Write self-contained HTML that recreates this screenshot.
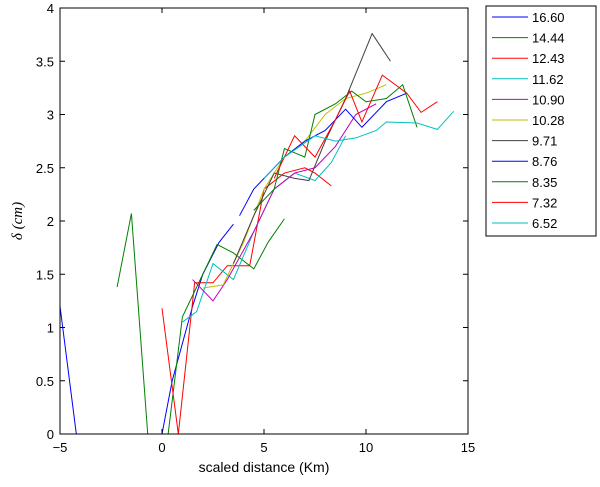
<!DOCTYPE html>
<html><head><meta charset="utf-8"><style>
body{margin:0;background:#fff;width:600px;height:482px;overflow:hidden;font-family:"Liberation Sans",sans-serif}
</style></head><body>
<svg id="chart" width="600" height="482" xmlns="http://www.w3.org/2000/svg" font-family="Liberation Sans, sans-serif"></svg>
<script>
const xTicks=[-5,0,5,10,15];
const yTicks=[0,0.5,1,1.5,2,2.5,3,3.5,4];
const seriesNames=["16.60","14.44","12.43","11.62","10.90","10.28","9.71","8.76","8.35","7.32","6.52"];
const seriesColors=["#0000ff","#008000","#ff0000","#00bfbf","#bf00bf","#bfbf00","#404040","#0000ff","#008000","#ff0000","#00bfbf"];
const s1660x=[-5,-4.2,0,0.5,1.5,2,2.8,3.5];
const s1660y=[1.2,0,0,0.5,1.2,1.5,1.8,1.97];
const s1444x=[-2.2,-1.5,-0.7,0.3,1,2,2.7,3.5,4.5,5.2,6];
const s1444y=[1.38,2.07,0,0,1.1,1.5,1.78,1.7,1.55,1.8,2.02];
const s1243x=[0,0.8,1.6,2.5,3.2,4.3,5,6,7,7.5,8.3];
const s1243y=[1.18,0,1.42,1.42,1.58,1.58,2.3,2.45,2.5,2.45,2.33];
const s1162x=[1,1.7,2.5,3.5,4.5,5.5,6.5,7.5,8.3,9];
const s1162y=[1.05,1.15,1.6,1.45,1.9,2.3,2.45,2.38,2.55,2.8];
const s1090x=[1.5,2.5,3.2,4.5,5.5,6.5,7.5,8.5,9.5,10.5];
const s1090y=[1.45,1.25,1.45,1.9,2.3,2.45,2.5,2.7,3.0,3.1];
const s1028x=[2,3,4,5,6,7,8,9,10,11];
const s1028y=[1.37,1.4,1.8,2.3,2.6,2.75,3.0,3.15,3.2,3.28];
const s971x=[3.5,4.5,5.5,6.5,7.2,8,9,10.3,11.2];
const s971y=[1.6,2.05,2.45,2.4,2.38,2.75,3.15,3.76,3.5];
const s876x=[3.8,4.5,5.5,6,7,8,9,9.8,11,12];
const s876y=[2.05,2.3,2.5,2.6,2.75,2.85,3.05,2.88,3.12,3.2];
const s835x=[4.5,5.5,6,7,7.5,8.5,9.3,10,11,11.8,12.5];
const s835y=[2.1,2.3,2.68,2.6,3.0,3.1,3.22,3.12,3.15,3.28,2.88];
const s732x=[5.5,6.5,7.5,8.5,9.2,9.8,10.8,12,12.7,13.5];
const s732y=[2.4,2.8,2.6,2.95,3.22,2.93,3.37,3.2,3.02,3.12];
const s652x=[5,6,7.5,8.5,9.5,10.5,11,12.5,13.5,14.3];
const s652y=[2.4,2.6,2.8,2.75,2.78,2.85,2.93,2.92,2.86,3.03];
const allX=[s1660x,s1444x,s1243x,s1162x,s1090x,s1028x,s971x,s876x,s835x,s732x,s652x];
const allY=[s1660y,s1444y,s1243y,s1162y,s1090y,s1028y,s971y,s876y,s835y,s732y,s652y];

const L=60,R=468,T=8,B=434;
const xs=v=>L+(v+5)/20*(R-L);
const ys=v=>B-v/4*(B-T);
const svg=document.getElementById('chart');
const NS="http://www.w3.org/2000/svg";
function mk(tag,attrs,parent){const e=document.createElementNS(NS,tag);for(const k in attrs)e.setAttribute(k,attrs[k]);(parent||svg).appendChild(e);return e;}

const clip=mk('clipPath',{id:'pc'});mk('rect',{x:L,y:T,width:R-L,height:B-T},clip);
const plot=mk('g',{'clip-path':'url(#pc)'});


allX.forEach((xa,i)=>{
  const p=mk('polyline',{points:xa.map((x,j)=>xs(x)+','+ys(allY[i][j])).join(' '),fill:'none',stroke:seriesColors[i],'stroke-width':1},plot);
  
  
});
const frame=mk('rect',{x:L,y:T,width:R-L,height:B-T,fill:'none',stroke:'#000','stroke-width':1});


xTicks.forEach(v=>{
  const x=xs(v);
  mk('line',{x1:x,y1:B,x2:x,y2:B-5,stroke:'#000'});
  mk('line',{x1:x,y1:T,x2:x,y2:T+5,stroke:'#000'});
  const t=mk('text',{x:x,y:B+18,'font-size':13,'text-anchor':'middle'});t.textContent=v<0?'\u2212'+(-v):v;
  
  
});
yTicks.forEach(v=>{
  const y=ys(v);
  mk('line',{x1:L,y1:y,x2:L+5,y2:y,stroke:'#000'});
  mk('line',{x1:R,y1:y,x2:R-5,y2:y,stroke:'#000'});
  const t=mk('text',{x:L-6,y:y+5,'font-size':13,'text-anchor':'end'});t.textContent=v;
  
  
});
const xt=mk('text',{x:(L+R)/2,y:472,'font-size':14,'text-anchor':'middle'});xt.textContent='scaled distance (Km)';


const yt=mk('text',{x:0,y:0,'font-size':15,'text-anchor':'middle','font-style':'italic','font-family':'Liberation Serif, serif',transform:'translate(22,221) rotate(-90)'});yt.textContent='δ (cm)';


const lg=mk('g',{});


mk('rect',{x:486,y:6,width:110,height:230,fill:'#fff',stroke:'#000'},lg);
seriesNames.forEach((n,i)=>{
  const y=17+i*20.6;
  const ln=mk('line',{x1:492,y1:y,x2:528,y2:y,stroke:seriesColors[i]},lg);
  
  
  const t=mk('text',{x:532,y:y+5,'font-size':13},lg);t.textContent=n;
  
  
});
</script>
</body></html>
